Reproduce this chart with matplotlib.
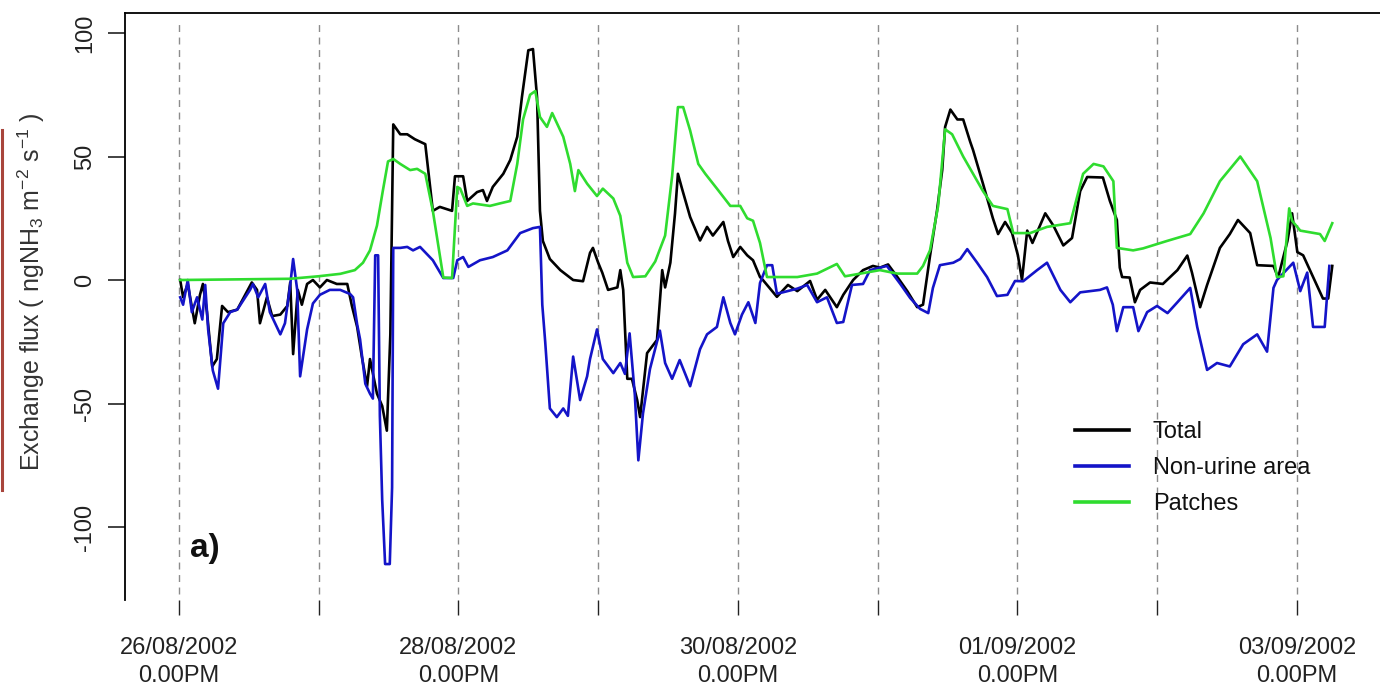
import matplotlib
matplotlib.use("Agg")
import matplotlib.pyplot as plt
from matplotlib.lines import Line2D

plt.rcParams['font.family'] = ['Liberation Sans', 'DejaVu Sans']
plt.rcParams['mathtext.fontset'] = 'custom'
plt.rcParams['mathtext.rm'] = 'Liberation Sans'
plt.rcParams['mathtext.it'] = 'Liberation Sans:italic'

# hours since 26/08/2002 12:00
total_h = [0.2, 0.7, 1.5, 2.7, 3.6, 4.1, 4.8, 5.7, 6.5, 7.4,
           8.4, 10.0, 11.7, 12.5, 13.4, 13.9, 15.1, 16.0, 17.4, 18.6,
           19.1, 19.6, 20.4, 21.1, 22.0, 23.0, 24.2, 25.4, 27.1, 28.9,
           29.7, 30.6, 31.4, 32.3, 32.8, 34.0, 34.9, 35.7, 36.3, 36.8,
           38.0, 39.2, 40.5, 42.3, 42.8, 43.6, 44.8, 46.9, 47.4, 48.8,
           49.5, 51.2, 52.2, 52.9, 53.9, 55.7, 56.9, 58.1, 58.9, 60.0,
           60.8, 61.5, 62.0, 62.5, 63.7, 65.5, 67.7, 69.4, 70.6, 71.1,
           72.0, 72.7, 73.7, 75.3, 75.8, 76.3, 77.0, 77.8, 78.7, 79.2,
           80.4, 82.1, 83.0, 83.5, 84.4, 85.2, 85.7, 86.4, 87.8, 89.5,
           90.7, 91.7, 93.5, 94.3, 95.2, 96.4, 97.6, 98.6, 99.8, 100.3,
           102.7, 104.6, 106.2, 108.4, 109.6, 111.0, 113.0, 114.1, 115.8, 117.5,
           119.2, 120.4, 121.8, 123.4, 125.1, 126.8, 127.8, 129.0, 130.2, 131.1,
           131.6, 132.5, 133.7, 134.7, 135.9, 136.4, 138.1, 139.8, 140.7, 141.9,
           143.1, 144.1, 144.8, 145.7, 146.6, 148.8, 150.2, 151.9, 153.4, 154.8,
           156.0, 158.7, 159.9, 161.1, 161.6, 162.0, 163.3, 164.2, 165.1, 166.8,
           169.0, 171.5, 173.2, 174.0, 175.4, 176.6, 178.8, 180.5, 181.9, 184.0,
           185.2, 188.0, 188.8, 190.4, 191.2, 192.1, 193.1, 194.8, 196.5, 197.4,
           198.1]
total_v = [0, -7, -1.6, -17.5, -6, -1.6, -13, -35, -32, -10.5,
           -13, -12, -4.5, -1, -4, -17.5, -7, -14.6, -14, -10.5,
           -1, -30, -4, -10, -1.6, 0, -3, 0, -1.6, -1.6,
           -10.5, -19, -31, -43, -32, -46, -51, -61, -22, 63,
           59, 59, 57, 55, 44.5, 28, 29.6, 28, 42, 42,
           32, 35.6, 36.4, 32, 37.7, 43, 48.6, 58, 74, 93,
           93.5, 74, 28, 15.8, 8.5, 4, 0, -0.5, 11, 13,
           7, 3, -4, -3, 4, -4, -40, -40, -48.6, -55.5,
           -29.6, -24.3, 4, -3, 7, 27, 43, 37, 25.5, 16,
           21.5, 18, 23.5, 15.8, 9.3, 13.4, 10, 8, 1.2, 0,
           -6.8, -2, -4.5, -0.4, -8, -4, -11, -6, 0, 4,
           5.7, 5, 6.3, 1.2, -4.5, -11, -10, 9.7, 28, 44.5,
           62, 69, 65, 65, 56, 52.6, 39, 25, 18.6, 23.5,
           19, 10, 0, 20, 15, 27, 22, 14, 17, 36,
           41.7, 41.5, 32, 24.3, 5, 1.2, 1, -9, -4, -1,
           -1.6, 4, 9.9, 3, -11, -2, 13, 18.6, 24.3, 19,
           6, 5.7, 1, 15.8, 27, 11.3, 10, 1.2, -7.5, -7.5,
           5.7]

nonurine_h = [0.2, 0.7, 1.5, 2.2, 3.1, 4.0, 4.5, 5.0, 5.8, 6.7,
              7.6, 8.8, 10.0, 12.2, 12.7, 13.6, 14.8, 15.6, 17.4, 18.2,
              19.1, 19.6, 20.3, 20.8, 22.0, 23.0, 24.2, 25.9, 27.7, 29.4,
              29.9, 30.6, 31.1, 32.0, 32.8, 33.3, 33.7, 34.2, 34.5, 34.9,
              35.4, 36.2, 36.6, 36.8, 38.0, 39.2, 40.2, 41.4, 43.6, 45.4,
              47.1, 47.8, 48.8, 49.7, 51.7, 53.9, 56.4, 58.6, 60.8, 62.0,
              62.4, 62.9, 63.7, 64.9, 66.0, 66.8, 67.7, 68.9, 70.1, 70.6,
              71.8, 72.8, 74.6, 75.8, 76.6, 77.4, 78.3, 78.9, 79.7, 80.9,
              82.6, 83.5, 84.7, 86.0, 87.8, 89.5, 90.7, 92.4, 93.5, 94.7,
              95.5, 96.7, 97.8, 99.0, 99.8, 101.0, 101.9, 102.7, 103.7, 106.2,
              107.9, 109.6, 111.3, 113.0, 114.1, 115.6, 117.5, 118.7, 121.6, 123.9,
              125.6, 127.3, 128.7, 129.5, 130.7, 133.0, 134.2, 135.4, 137.1, 138.8,
              140.5, 142.3, 143.6, 145.0, 147.4, 149.1, 151.4, 153.1, 154.8, 158.2,
              159.4, 160.4, 161.1, 162.2, 163.9, 164.8, 166.3, 168.0, 169.8, 171.5,
              173.7, 174.9, 176.6, 178.3, 180.5, 182.8, 185.2, 186.9, 188.0, 188.6,
              191.4, 192.6, 193.8, 194.8, 196.8, 197.6]
nonurine_v = [-7, -10, 0, -13, -7, -16, -2, -20, -36.6, -44,
              -17.5, -13, -12, -4, -1.6, -7, -1.6, -13, -22, -17.5,
              -2, 8.5, -4, -39, -20, -9.5, -6, -4, -4, -5.7,
              -7, -18, -24, -42, -46, -48, 10, 10, -55, -89,
              -115, -115, -84, 13, 13, 13.4, 12, 13.4, 8, 0.8,
              0.8, 8, 9.3, 5.3, 8, 9.3, 12, 19, 21, 21.5,
              -10, -25, -52, -55.5, -52, -55, -31, -48.6, -39, -32,
              -20, -32, -37.7, -33.6, -38, -21.6, -46.6, -73, -54, -36,
              -20.5, -33.6, -40, -32.4, -43, -28, -22, -19, -7, -17.4,
              -22, -14, -9, -17.4, -1.2, 6, 6, -5.5, -5, -3.5,
              -2, -9, -7, -17.4, -17, -2, -1.6, 4, 5.7, -1.6,
              -7.3, -11.7, -13.4, -3.2, 6, 7, 8.5, 12.5, 7, 1.2,
              -6.5, -6, -0.4, -0.5, 4, 7, -4, -9, -5, -4,
              -3, -10, -20.7, -11, -11, -20.7, -13, -10.5, -13.4, -9,
              -3.2, -19, -36.4, -33.6, -35, -26, -22, -29, -3.2, 0,
              7, -4.5, 3, -19, -19, 5.7]

patches_h = [0.2, 19.1, 23.9, 27.7, 30.2, 31.6, 32.8, 34.0, 35.0, 35.9,
             36.8, 38.0, 39.7, 40.9, 42.3, 43.6, 45.4, 46.9, 47.8, 48.3,
             49.5, 50.5, 53.4, 55.1, 56.9, 58.1, 59.1, 60.3, 61.2, 62.0,
             63.2, 64.1, 66.0, 67.2, 68.0, 68.6, 70.1, 71.8, 72.8, 74.6,
             75.8, 77.0, 78.0, 80.1, 81.8, 83.5, 84.7, 85.7, 86.6, 87.8,
             89.2, 90.4, 92.4, 94.7, 96.4, 97.6, 98.6, 99.8, 101.0, 106.2,
             109.6, 113.0, 114.4, 120.4, 123.4, 126.8, 127.8, 129.0, 130.4, 131.6,
             132.8, 134.7, 136.4, 138.1, 139.8, 142.3, 143.3, 146.2, 149.1, 153.1,
             155.3, 157.1, 158.8, 160.5, 161.1, 163.9, 165.6, 169.7, 173.7, 176.0,
             178.8, 182.3, 185.2, 187.5, 188.6, 189.7, 190.7, 191.2, 192.6, 196.0,
             196.8, 198.1]
patches_v = [0, 0.5, 1.5, 2.5, 4, 7, 12, 22, 36, 48,
             49, 47, 44.5, 45, 43, 28, 1, 0.8, 37.7, 37,
             30, 31, 30, 31, 32, 47, 65, 75, 76.5, 66,
             62, 67.6, 58, 47, 36, 44.5, 39, 34, 37, 33,
             26, 7, 1.2, 1.5, 7.5, 18, 42, 70, 70, 60.5,
             47, 43, 37, 30, 30, 25, 24, 15, 1.2, 1.2,
             2.6, 6.5, 1.5, 4, 2.6, 2.6, 5.7, 12, 30, 61,
             59, 50, 43, 36, 30, 28.7, 19, 19, 21.5, 23,
             43, 47, 46, 40, 13, 12, 12.8, 15.8, 18.6, 27,
             40, 50, 40, 17, 1.2, 1.5, 29, 24, 20, 18.6,
             15.8, 23]

day_ticks = [0, 24, 48, 72, 96, 120, 144, 168, 192]
day_labels = ["26/08/2002\n0.00PM", "", "28/08/2002\n0.00PM", "",
              "30/08/2002\n0.00PM", "", "01/09/2002\n0.00PM", "",
              "03/09/2002\n0.00PM"]
y_ticks = [-100, -50, 0, 50, 100]

W, H = 1380, 690
fig = plt.figure(figsize=(W / 100, H / 100), dpi=100)
ax = fig.add_axes([125 / W, 90 / H, 1255 / W, 587 / H])

for d in day_ticks:
    ax.axvline(d, ymin=0.01, ymax=0.985, color='#8c8c8c', lw=1.0,
               ls=(0, (5, 4)), zorder=1)

ax.plot(total_h, total_v, color='#000000', lw=1.9, label='Total', zorder=3)
ax.plot(nonurine_h, nonurine_v, color='#1414c8', lw=1.9, label='Non-urine area', zorder=3)
ax.plot(patches_h, patches_v, color='#2fdc2f', lw=1.9, label='Patches', zorder=3)

ax.set_xlim(-9.28, 206.3)
ax.set_ylim(-129.55, 108.1)

for s in ['right', 'bottom']:
    ax.spines[s].set_visible(False)
ax.spines['left'].set_linewidth(1.3)
ax.spines['top'].set_linewidth(1.3)

ax.set_xticks(day_ticks)
ax.set_xticklabels(day_labels, fontsize=17, color='#222222', linespacing=1.35)
ax.set_yticks(y_ticks)
ax.set_yticklabels([str(v) for v in y_ticks], fontsize=17, color='#222222',
                   rotation=90, va='center')
ax.tick_params(axis='x', direction='out', length=11, width=1.0, pad=16, colors='#222222')
ax.tick_params(axis='y', direction='out', length=12, width=1.2, pad=9, colors='#222222')

fig.text(31 / W, 1 - 292 / H, r'Exchange flux ( ngNH$_3$ m$^{-2}$ s$^{-1}$ )',
         rotation=90, ha='center', va='center', fontsize=18, color='#333333')

ax.text((205 - 125) / 1255, (600 - 548) / 587, 'a)', transform=ax.transAxes,
        fontsize=24, fontweight='bold', ha='center', va='center', color='#111111')

leg = ax.legend(loc='upper left', bbox_to_anchor=(1075 / W, 1 - 421 / H),
                bbox_transform=fig.transFigure, frameon=False, fontsize=17,
                handlelength=2.3, handletextpad=1.0, labelspacing=0.6,
                borderpad=0, borderaxespad=0)
for t in leg.get_texts():
    t.set_color('#111111')
for ln in leg.get_lines():
    ln.set_linewidth(2.6)

fig.add_artist(Line2D([1.5 / W, 1.5 / W], [1 - 130 / H, 1 - 490 / H],
                      transform=fig.transFigure, color='#a8453c', lw=2.2))

fig.savefig('out.png', dpi=100)
